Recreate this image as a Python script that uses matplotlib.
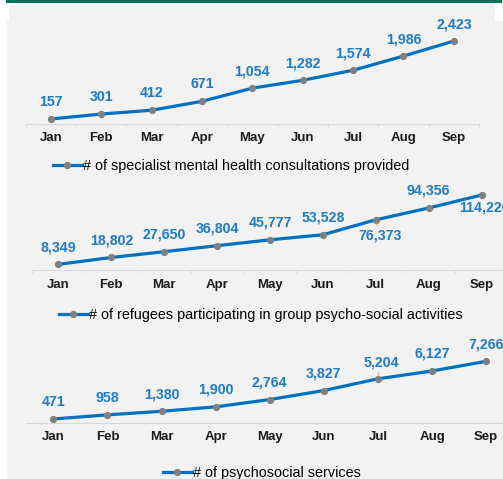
import matplotlib
matplotlib.use("Agg")
import matplotlib.pyplot as plt
from matplotlib.patches import Rectangle
from matplotlib.lines import Line2D

plt.rcParams['font.family'] = ['Liberation Sans', 'DejaVu Sans']

months = ["Jan", "Feb", "Mar", "Apr", "May", "Jun", "Jul", "Aug", "Sep"]
consultations = [157, 301, 412, 671, 1054, 1282, 1574, 1986, 2423]
group_activities = [8349, 18802, 27650, 36804, 45777, 53528, 76373, 94356, 114220]
psychosocial = [471, 958, 1380, 1900, 2764, 3827, 5204, 6127, 7266]

legend1 = "# of specialist mental health consultations provided"
legend2 = "# of refugees participating in group psycho-social activities"
legend3 = "# of psychosocial services"

W, H = 503, 479
DPI = 100
fig = plt.figure(figsize=(W / DPI, H / DPI), dpi=DPI)
fig.patch.set_facecolor("white")

PX = 72.0 / DPI  # points per pixel

def fx(x):
    return x / W

def fy(y):
    return 1 - y / H

# background panels
fig.add_artist(Rectangle((fx(7), fy(479)), fx(503) - fx(7), fy(21) - fy(479),
                         transform=fig.transFigure, color="#f2f2f2", lw=0, zorder=0))
fig.add_artist(Rectangle((fx(9), fy(21)), fx(495) - fx(9), fy(5) - fy(21),
                         transform=fig.transFigure, color="#f2f2f2", lw=0, zorder=0))
fig.add_artist(Rectangle((fx(6), fy(2.5)), fx(502) - fx(6), fy(0) - fy(2.5),
                         transform=fig.transFigure, color="#00735a", lw=0, zorder=0))

LINE_C = "#0070c0"
LABEL_C = "#1f7bcb"
MARK_C = "#808080"
AXIS_C = "#d9d9d9"


def make_panel(x0, x1, base, ymax, px_per_unit, values, ticks=True, tickpad=5.5,
               offsets=None, leaders=()):
    top = base - ymax * px_per_unit
    ax = fig.add_axes([fx(x0), fy(base), fx(x1) - fx(x0), fy(top) - fy(base)])
    ax.set_facecolor("none")
    xs = list(range(len(months)))
    ax.plot(xs, values, color=LINE_C, lw=2.3, marker="o", markersize=4.2,
            markerfacecolor=MARK_C, markeredgecolor=MARK_C, solid_capstyle="round",
            zorder=3, clip_on=False)
    ax.set_xlim(-0.5, len(months) - 0.5)
    ax.set_ylim(0, ymax)
    for s in ["top", "right", "left"]:
        ax.spines[s].set_visible(False)
    ax.spines["bottom"].set_color(AXIS_C)
    ax.spines["bottom"].set_linewidth(0.8)
    ax.set_yticks([])
    ax.set_xticks(xs)
    ax.set_xticklabels(months, fontsize=9.5, fontweight="bold", color="#1a1a1a")
    ax.tick_params(axis="x", which="major", length=0, pad=tickpad)
    if ticks:
        ax.set_xticks([i - 0.5 for i in range(len(months) + 1)], minor=True)
        ax.tick_params(axis="x", which="minor", length=3 * PX * 1.0, width=0.8,
                       color=AXIS_C)
    for i, v in enumerate(values):
        dx, dy = (0, 17)
        if offsets and i in offsets:
            dx, dy = offsets[i]
        kw = {}
        if i in leaders:
            kw = dict(arrowprops=dict(arrowstyle="-", color="#a6a6a6", lw=0.6,
                                      shrinkA=0, shrinkB=2))
        ax.annotate(f"{v:,}", (i, v), xytext=(dx * PX, dy * PX),
                    textcoords="offset points", ha="center", va="center",
                    fontsize=10.2, fontweight="bold", color=LABEL_C,
                    annotation_clip=False, zorder=4, **kw)
    return ax


def add_legend(ax, label, x_start, y_center):
    h = Line2D([], [], color=LINE_C, lw=2.3, marker="o", markersize=4.2,
               markerfacecolor=MARK_C, markeredgecolor=MARK_C)
    ax.legend([h], [label], loc="center left",
              bbox_to_anchor=(fx(x_start), fy(y_center)),
              bbox_transform=fig.transFigure, frameon=False, fontsize=10.4,
              handlelength=2.0, handletextpad=0.08, borderpad=0, borderaxespad=0)


ax1 = make_panel(25.7, 479.0, 124.4, 3000, 0.0344, consultations,
                 ticks=True, tickpad=5.5)
add_legend(ax1, legend1, 53, 166)

ax2 = make_panel(32.0, 32.0 + 9 * 52.9, 269.8, 130000, 0.000655, group_activities,
                 ticks=True, tickpad=6.5,
                 offsets={6: (4, -16), 8: (2.5, -13)}, leaders=(6,))
add_legend(ax2, legend2, 59, 315)

ax3 = make_panel(26.3, 26.3 + 9 * 54.1, 423.0, 8000, 0.00849, psychosocial,
                 ticks=False, tickpad=6.0,
                 offsets={6: (3, 16.5)}, leaders=(6,))
add_legend(ax3, legend3, 163, 473.3)

fig.savefig("out.png", dpi=DPI, facecolor=fig.get_facecolor())
